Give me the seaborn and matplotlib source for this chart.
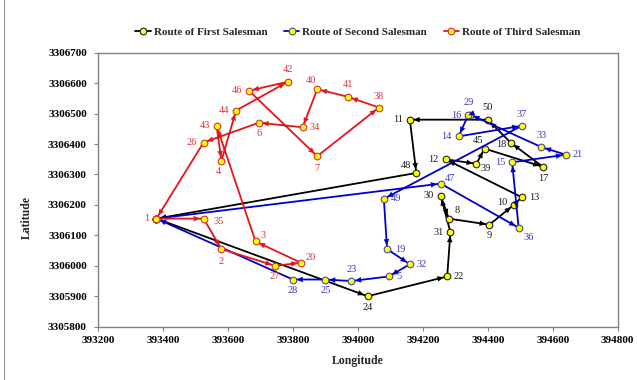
import matplotlib
matplotlib.use("Agg")
import matplotlib.pyplot as plt
from matplotlib.lines import Line2D
import pandas as pd
import seaborn as sns

# ---- route data: node ids and coordinates, depot (1) at both ends ----
first_ids = [1, 24, 22, 31, 30, 8, 9, 10, 13, 12, 39, 45, 17, 18, 50, 11, 48, 1]
first_lon = [393380, 394030, 394275, 394285, 394255, 394280, 394405, 394480, 394505,
             394270, 394365, 394390, 394570, 394470, 394400, 394160, 394180, 393380]
first_lat = [3306155, 3305900, 3305965, 3306110, 3306230, 3306155, 3306135, 3306200, 3306225,
             3306350, 3306335, 3306385, 3306325, 3306405, 3306480, 3306480, 3306305, 3306155]

second_ids = [1, 47, 36, 15, 21, 33, 29, 16, 14, 37, 49, 19, 32, 5, 23, 25, 28, 1]
second_lon = [393380, 394255, 394495, 394475, 394640, 394565, 394345, 394340, 394310,
              394505, 394080, 394090, 394160, 394095, 393980, 393900, 393800, 393380]
second_lat = [3306155, 3306270, 3306125, 3306340, 3306365, 3306390, 3306497, 3306495, 3306425,
              3306460, 3306220, 3306055, 3306005, 3305965, 3305950, 3305955, 3305955, 3306155]

third_ids = [1, 35, 2, 27, 20, 3, 43, 4, 44, 42, 46, 7, 38, 41, 40, 34, 6, 26, 1]
third_lon = [393380, 393525, 393580, 393745, 393825, 393685, 393565, 393580, 393625, 393785,
             393665, 393875, 394065, 393970, 393875, 393830, 393695, 393525, 393380]
third_lat = [3306155, 3306155, 3306055, 3306000, 3306010, 3306080, 3306460, 3306345, 3306510,
             3306605, 3306575, 3306360, 3306520, 3306555, 3306580, 3306455, 3306470, 3306405, 3306155]

route_names = ["Route of First Salesman", "Route of Second Salesman", "Route of Third Salesman"]

x_ticks = [393200, 393400, 393600, 393800, 394000, 394200, 394400, 394600, 394800]
y_ticks = [3305800, 3305900, 3306000, 3306100, 3306200, 3306300, 3306400, 3306500, 3306600, 3306700]

# ---- label placement around each node (pixels: dx, dy) ----
label_offsets = {
    1: (-10, 0), 35: (15, -3), 2: (0, -12), 3: (8, 6), 20: (10, 5), 27: (0, -11),
    42: (0, 12), 46: (-12, 0), 40: (-6, 9), 41: (0, 12), 38: (0, 11), 44: (-12, 0),
    43: (-12, 0), 6: (0, -11), 34: (12, 0), 26: (-12, 0), 4: (-3, -11), 7: (0, -12),
    11: (-12, 0), 48: (-10, 7), 50: (0, 12), 45: (-7, 8), 18: (-9, -2), 12: (-12, 0),
    39: (9, -5), 17: (0, -12), 13: (12, 0), 10: (-11, 2), 8: (8, 8), 9: (0, -11),
    31: (-12, 0), 30: (-12, 0), 24: (0, -11), 22: (12, 0),
    16: (-12, 0), 29: (-1, 12), 14: (-12, 0), 37: (0, 11), 33: (0, 12), 21: (12, 0),
    15: (-12, 0), 36: (10, -10), 47: (9, 5), 49: (12, 0), 19: (13, 0), 32: (12, 0),
    5: (10, 0), 23: (0, 12), 25: (0, -11), 28: (0, -11),
}

styles = [
    dict(line="#000000", edge="#222222", text="#1a1a1a"),
    dict(line="#0000C8", edge="#4a4aa0", text="#3a3ab8"),
    dict(line="#E8141C", edge="#d43030", text="#E0303A"),
]

sns.set_theme(style="white")
plt.rcParams["font.family"] = ["Liberation Serif", "DejaVu Serif"]

W, H = 637, 380
fig = plt.figure(figsize=(W / 100, H / 100), dpi=100)
ax = fig.add_axes([98 / W, 1 - 326.7 / H, 519.7 / W, 274 / H])

routes = [
    (first_ids, first_lon, first_lat),
    (second_ids, second_lon, second_lat),
    (third_ids, third_lon, third_lat),
]

for k, ((ids, lon, lat), name, st) in enumerate(zip(routes, route_names, styles)):
    df = pd.DataFrame({"Longitude": lon, "Latitude": lat, "node": ids})
    sns.lineplot(data=df, x="Longitude", y="Latitude", sort=False, estimator=None,
                 color=st["line"], lw=1.3, marker="o", ms=4.8,
                 markerfacecolor="#FFFF00", markeredgecolor=st["edge"], markeredgewidth=0.8,
                 label=name, ax=ax, zorder=3 + k)
    # arrowheads showing the travel direction
    for i in range(len(lon) - 1):
        ax.annotate("", xy=(lon[i + 1], lat[i + 1]), xytext=(lon[i], lat[i]),
                    arrowprops=dict(arrowstyle="-|>,head_length=0.5,head_width=0.22",
                                    color=st["line"], lw=0.01, shrinkA=0, shrinkB=2.6,
                                    mutation_scale=9),
                    zorder=3 + k)
    # node numbers
    for nid, x, y in zip(ids, lon, lat):
        if nid == 1 and k != 2:
            continue
        if nid == 1 and x != lon[0]:
            continue
        dx, dy = label_offsets[nid]
        ax.annotate(str(nid), (x, y), xytext=(dx, dy), textcoords="offset pixels",
                    ha="center", va="center", fontsize=7.5, color=st["text"], zorder=10)

# node 1 is labelled once only
seen = [t for t in ax.texts if t.get_text() == "1"]
for t in seen[1:]:
    t.remove()

ax.set_xlim(393200, 394800)
ax.set_ylim(3305800, 3306700)
ax.set_xticks(x_ticks, labels=[str(v) for v in x_ticks], fontweight="bold", fontsize=8)
ax.set_yticks(y_ticks, labels=[str(v) for v in y_ticks], fontweight="bold", fontsize=8)
ax.tick_params(axis="both", bottom=True, left=True, direction="out", length=3,
               width=0.8, color="#808080", colors="#000000", pad=5)
ax.tick_params(axis="x", pad=4)

for s in ax.spines.values():
    s.set_visible(True)
    s.set_color("#808080")
    s.set_linewidth(1.0)

ax.set_xlabel("Longitude", fontweight="bold", fontsize=8.5)
ax.set_ylabel("Latitude", fontweight="bold", fontsize=8.5)
ax.xaxis.set_label_coords(0.5, -0.105)
ax.yaxis.set_label_coords(-0.126, 0.40)

handles, labels = ax.get_legend_handles_labels()
ax.get_legend().remove()
fig.legend(handles, labels, loc="center", bbox_to_anchor=(357.8 / W, 1 - 32 / H), ncol=3,
           frameon=False, prop=dict(weight="bold", size=8), handlelength=1.4,
           handletextpad=0.25, columnspacing=1.5, borderaxespad=0)

fig.add_artist(Line2D([4 / W, 4 / W], [0, 1], transform=fig.transFigure,
                      color="#999999", lw=0.8))

fig.savefig("out.png", dpi=100)
